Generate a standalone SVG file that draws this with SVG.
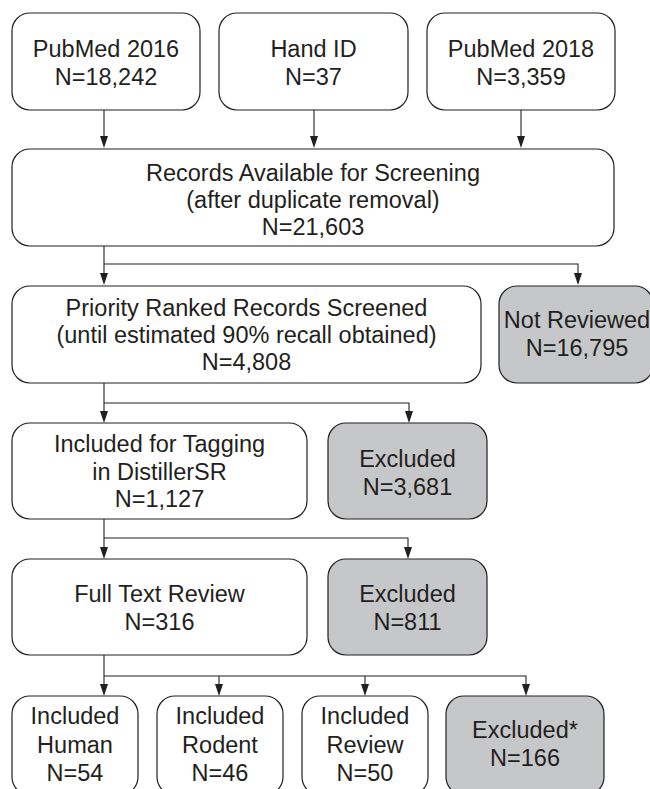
<svg xmlns="http://www.w3.org/2000/svg" width="650" height="789" viewBox="0 0 650 789">
<defs>
<style>
.box{fill:#ffffff;stroke:#231f20;stroke-width:1.2}
.gray{fill:#c6c7c9;stroke:#231f20;stroke-width:1.2}
.t{font-family:"Liberation Sans",Arial,Helvetica,sans-serif;font-size:23.5px;fill:#231f20;text-anchor:middle}
.c{fill:none;stroke:#231f20;stroke-width:1.1}
.h{fill:#231f20}
</style>
</defs>
<rect width="650" height="789" fill="#ffffff"/>

<g id="connectors">
<path class="c" d="M104,110 V136"/>
<path class="h" d="M100,136 L108,136 L104,148 Z"/>
<path class="c" d="M314,110 V136"/>
<path class="h" d="M310,136 L318,136 L314,148 Z"/>
<path class="c" d="M521,110 V136"/>
<path class="h" d="M517,136 L525,136 L521,148 Z"/>

<path class="c" d="M104,246 V273 M104,264 H578 V273"/>
<path class="h" d="M100,273 L108,273 L104,285 Z"/>
<path class="h" d="M574,273 L582,273 L578,285 Z"/>

<path class="c" d="M104,383 V411 M104,403 H409 V411"/>
<path class="h" d="M100,411 L108,411 L104,423 Z"/>
<path class="h" d="M405,411 L413,411 L409,423 Z"/>

<path class="c" d="M104,519 V547 M104,538 H408 V547"/>
<path class="h" d="M100,547 L108,547 L104,559 Z"/>
<path class="h" d="M404,547 L412,547 L408,559 Z"/>

<path class="c" d="M104,655 V684 M104,676 H526 V684 M219,676 V684 M365,676 V684"/>
<path class="h" d="M100,684 L108,684 L104,696 Z"/>
<path class="h" d="M215,684 L223,684 L219,696 Z"/>
<path class="h" d="M361,684 L369,684 L365,696 Z"/>
<path class="h" d="M522,684 L530,684 L526,696 Z"/>
</g>

<g id="pubmed2016">
<rect class="box" x="12" y="13" width="188" height="97" rx="18"/>
<text class="t" x="106" y="57">PubMed 2016</text>
<text class="t" x="106" y="85">N=18,242</text>
</g>
<g id="handid">
<rect class="box" x="219" y="13" width="189" height="97" rx="18"/>
<text class="t" x="313.5" y="57">Hand ID</text>
<text class="t" x="313.5" y="85">N=37</text>
</g>
<g id="pubmed2018">
<rect class="box" x="427" y="13" width="188" height="97" rx="18"/>
<text class="t" x="521" y="57">PubMed 2018</text>
<text class="t" x="521" y="85">N=3,359</text>
</g>
<g id="records">
<rect class="box" x="12" y="149" width="602" height="97" rx="18"/>
<text class="t" x="313" y="181">Records Available for Screening</text>
<text class="t" x="313" y="208">(after duplicate removal)</text>
<text class="t" x="313" y="235">N=21,603</text>
</g>
<g id="priority">
<rect class="box" x="12" y="286" width="469" height="97" rx="18"/>
<text class="t" x="246.5" y="316">Priority Ranked Records Screened</text>
<text class="t" x="246.5" y="343">(until estimated 90% recall obtained)</text>
<text class="t" x="246.5" y="370">N=4,808</text>
</g>
<g id="notreviewed">
<rect class="gray" x="499" y="286" width="154" height="97" rx="18"/>
<text class="t" x="577" y="328">Not Reviewed</text>
<text class="t" x="577" y="356">N=16,795</text>
</g>
<g id="tagging">
<rect class="box" x="12" y="423" width="295" height="96" rx="18"/>
<text class="t" x="159.5" y="452">Included for Tagging</text>
<text class="t" x="159.5" y="480">in DistillerSR</text>
<text class="t" x="159.5" y="507">N=1,127</text>
</g>
<g id="excluded1">
<rect class="gray" x="328" y="423" width="159" height="96" rx="18"/>
<text class="t" x="407.5" y="467">Excluded</text>
<text class="t" x="407.5" y="495">N=3,681</text>
</g>
<g id="fulltext">
<rect class="box" x="12" y="559" width="295" height="96" rx="18"/>
<text class="t" x="159.5" y="602">Full Text Review</text>
<text class="t" x="159.5" y="630">N=316</text>
</g>
<g id="excluded2">
<rect class="gray" x="328" y="559" width="159" height="96" rx="18"/>
<text class="t" x="407.5" y="602">Excluded</text>
<text class="t" x="407.5" y="630">N=811</text>
</g>
<g id="human">
<rect class="box" x="12" y="696" width="126" height="99" rx="18"/>
<text class="t" x="75" y="724">Included</text>
<text class="t" x="75" y="753">Human</text>
<text class="t" x="75" y="781">N=54</text>
</g>
<g id="rodent">
<rect class="box" x="157" y="696" width="126" height="99" rx="18"/>
<text class="t" x="220" y="724">Included</text>
<text class="t" x="220" y="753">Rodent</text>
<text class="t" x="220" y="781">N=46</text>
</g>
<g id="review">
<rect class="box" x="302" y="696" width="126" height="99" rx="18"/>
<text class="t" x="365" y="724">Included</text>
<text class="t" x="365" y="753">Review</text>
<text class="t" x="365" y="781">N=50</text>
</g>
<g id="excluded3">
<rect class="gray" x="446" y="696" width="158" height="99" rx="18"/>
<text class="t" x="525" y="738">Excluded*</text>
<text class="t" x="525" y="766">N=166</text>
</g>
</svg>
